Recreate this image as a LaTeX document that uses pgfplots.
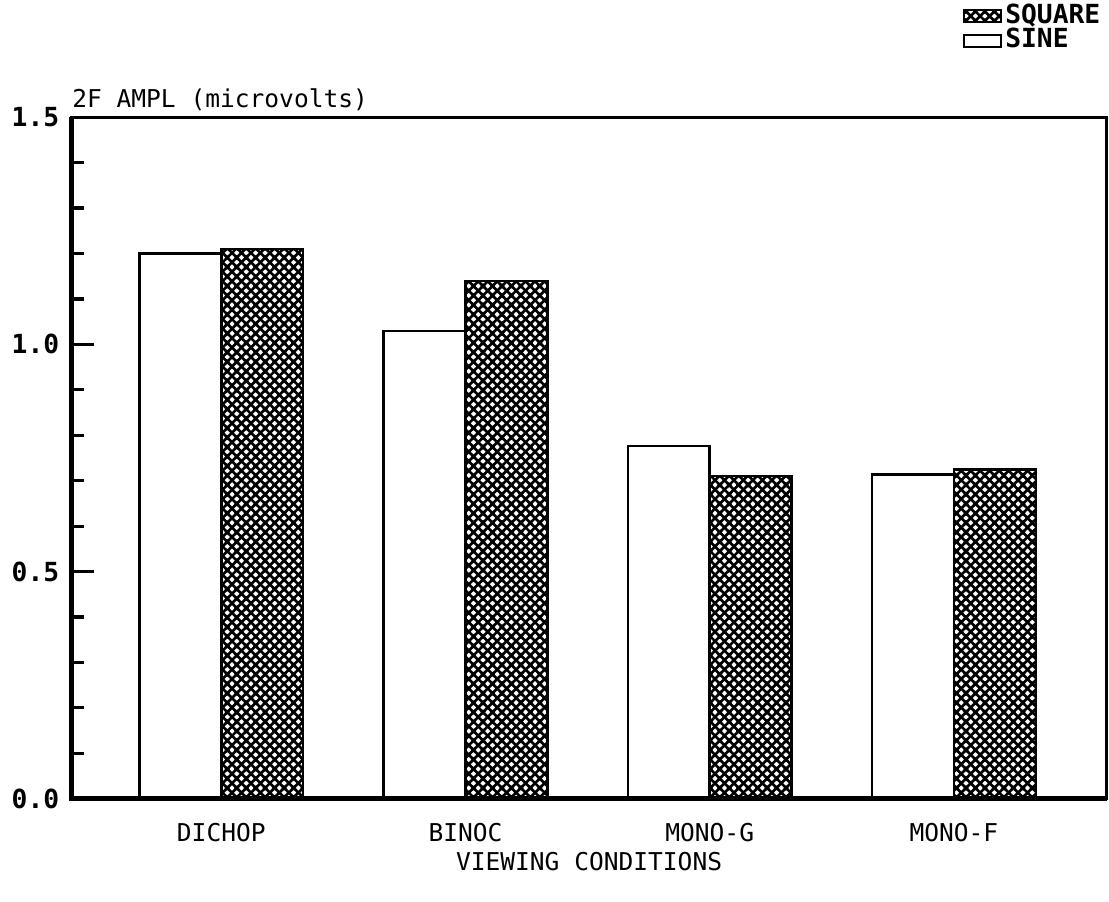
\documentclass[border=0pt]{standalone}
\usepackage{fontspec}
\setmainfont{DejaVu Sans Mono}
\usepackage{pgfplots}
\pgfplotsset{compat=1.18}
\usetikzlibrary{patterns}

% dense diagonal cross-hatch, black lines with white holes
\pgfdeclarepatternformonly{thickhatch}{\pgfqpoint{-1pt}{-1pt}}{\pgfqpoint{3.7pt}{3.7pt}}{\pgfqpoint{2.7pt}{2.7pt}}{%
  \pgfsetlinewidth{0.75pt}%
  \pgfpathmoveto{\pgfqpoint{-0.5pt}{-0.5pt}}\pgfpathlineto{\pgfqpoint{3.2pt}{3.2pt}}%
  \pgfpathmoveto{\pgfqpoint{-0.5pt}{3.2pt}}\pgfpathlineto{\pgfqpoint{3.2pt}{-0.5pt}}%
  \pgfusepath{stroke}}

\begin{document}
\begin{tikzpicture}
\begin{axis}[
  scale only axis, width=10.37cm, height=6.83cm,
  ybar=0pt, bar width=0.82cm,
  xmin=-0.613, xmax=3.625, ymin=0, ymax=1.5,
  xtick={0,1,2,3}, xticklabels={DICHOP,BINOC,MONO-G,MONO-F},
  x tick style={draw=none},
  ytick={0,0.5,1.0,1.5}, minor ytick={0.1,0.2,0.3,0.4,0.6,0.7,0.8,0.9,1.1,1.2,1.3,1.4},
  ytick pos=left, tick align=inside,
  major tick length=0.22cm, minor tick length=0.12cm,
  every tick/.style={black, line width=0.9pt},
  /pgf/number format/fixed, /pgf/number format/fixed zerofill, /pgf/number format/precision=1,
  /pgf/number format/assume math mode=true,
  yticklabel style={font=\fontsize{7.5}{9}\selectfont\bfseries},
  xticklabel style={font=\fontsize{7}{9}\selectfont, yshift=-0.12cm},
  axis line style={line width=0.8pt},
  xlabel={VIEWING CONDITIONS},
  xlabel style={font=\fontsize{7}{9}\selectfont, yshift=0.14cm},
  legend style={at={(1,1)}, anchor=south east, yshift=0.6cm, xshift=-0.02cm,
    draw=none, fill=none, font=\fontsize{7.5}{9}\selectfont\bfseries,
    row sep=-2pt, inner sep=0pt, nodes={inner sep=1pt}},
  legend cell align=left, reverse legend,
  legend image code/.code={\draw[#1, line width=0.6pt] (0cm,-0.06cm) rectangle (0.37cm,0.06cm);},
  clip=false,
]
\addplot[draw=black, line width=0.7pt, fill=white] coordinates {(0,1.20) (1,1.03) (2,0.776) (3,0.714)};
\addlegendentry{SINE}
\addplot[draw=black, line width=0.7pt, pattern=thickhatch, pattern color=black] coordinates {(0,1.21) (1,1.14) (2,0.71) (3,0.725)};
\addlegendentry{SQUARE}
\draw[line width=1.4pt] (rel axis cs:0,1) -- (rel axis cs:0,0) -- (rel axis cs:1,0);
\node[anchor=base west, font=\fontsize{7}{9}\selectfont, inner sep=0pt] at ([yshift=0.1cm]rel axis cs:0,1) {2F AMPL (microvolts)};
\path (rel axis cs:0,0) ++(-0.70cm,-1.03cm);
\path (rel axis cs:1,1) ++(0.02cm,1.12cm);
\end{axis}
\end{tikzpicture}
\end{document}
